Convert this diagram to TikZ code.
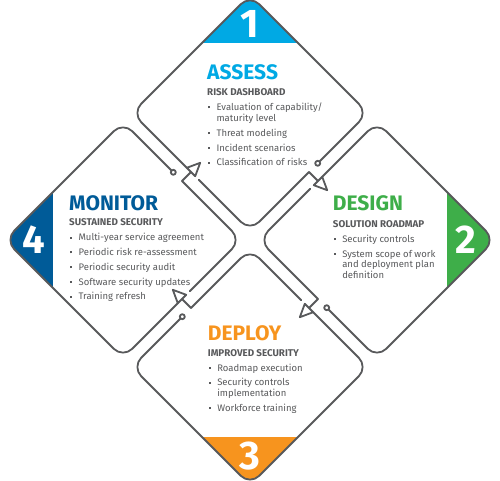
\documentclass[tikz,border=0pt]{standalone}
\usepackage{fontspec}
\setmainfont{Fira Sans}

\definecolor{linegray}{HTML}{58595B}
\definecolor{textgray}{HTML}{58595B}
\definecolor{assessblue}{HTML}{00A9E4}
\definecolor{designgreen}{HTML}{3EAE49}
\definecolor{deployorange}{HTML}{F7941E}
\definecolor{monitorblue}{HTML}{005B98}

\tikzset{
    outline/.style={draw=linegray, line width=1.8pt, line cap=round, line join=round},
    phase/.style={anchor=base west, inner sep=0pt, font=\fontsize{21}{21}\selectfont\bfseries},
    points/.style={anchor=north west, inner sep=0pt, align=left, text=textgray, font=\fontsize{9.5}{10.8}\selectfont},
    number/.style={text=white, inner sep=0pt, font=\fontsize{40}{40}\selectfont\bfseries},
}
\newcommand{\bul}{\makebox[9.4pt][l]{\hspace{0.8pt}\raisebox{2.2pt}{\rule{2pt}{2pt}}}}
\newcommand{\cont}{\hspace*{9.4pt}}
\newcommand{\subhead}[1]{\rule{0pt}{8pt}{\fontsize{9.8}{10.8}\selectfont\bfseries #1}}

\begin{document}
\begin{tikzpicture}[x=1pt, y=-1pt]
        \useasboundingbox (0,0) rectangle (500,481);
        % one card drawn at the top, then turned about the middle for the others
        \foreach \ang/\col/\num in {0/assessblue/1, -90/designgreen/2, -180/deployorange/3, -270/monitorblue/4} {
            \begin{scope}[shift={(250,240)}, rotate=\ang]
                \begin{scope}
                    \clip[rounded corners=13pt] (59,-186) -- (118,-127) -- (0,-9) -- (-118,-127) -- (0,-245) -- cycle;
                    \fill[\col] (-70,-250) rectangle (70,-197);
                \end{scope}
                \node[number] (num\num) at (0,-216) {\num};
                \draw[outline, rounded corners=13pt] (67.7,-76.7) -- (118,-127) -- (0,-245) -- (-118,-127) -- (-63.2,-72.2);
                \draw[outline, rounded corners=13pt] (-51.2,-60.2) -- (0,-9) -- (59,-68);
                \draw[outline] (59,-68) -- (68,-59);
                \draw[outline, fill=white] (72.2,-63.2) -- (77.2,-49.8) -- (63.8,-54.8) -- cycle;
                \draw[outline, fill=white] (67.7,-76.7) circle[radius=2.5];
            \end{scope}
        }

        \node[phase, text=assessblue] (assess) at (207,80) {ASSESS};
        \node[points] (assesspts) at (207,87.7) {\subhead{RISK DASHBOARD}\\[4pt]
            \bul Evaluation of capability/\\
            \cont maturity level\\[4pt]
            \bul Threat modeling\\[4pt]
            \bul Incident scenarios\\[4pt]
            \bul Classification of risks};

        \node[phase, text=designgreen] (design) at (332.7,210.7) {DESIGN};
        \node[points] (designpts) at (332.7,219.3) {\subhead{SOLUTION ROADMAP}\\[4pt]
            \bul Security controls\\[4pt]
            \bul System scope of work\\
            \cont and deployment plan\\
            \cont definition};

        \node[phase, text=deployorange] (deploy) at (207.7,340.7) {DEPLOY};
        \node[points] (deploypts) at (207.7,348) {\subhead{IMPROVED SECURITY}\\[4pt]
            \bul Roadmap execution\\[4pt]
            \bul Security controls\\
            \cont implementation\\[4pt]
            \bul Workforce training};

        \node[phase, text=monitorblue] (monitor) at (69,210) {MONITOR};
        \node[points] (monitorpts) at (69,217.7) {\subhead{SUSTAINED SECURITY}\\[4pt]
            \bul Multi-year service agreement\\[4pt]
            \bul Periodic risk re-assessment\\[4pt]
            \bul Periodic security audit\\[4pt]
            \bul Software security updates\\[4pt]
            \bul Training refresh};
\end{tikzpicture}
\end{document}
